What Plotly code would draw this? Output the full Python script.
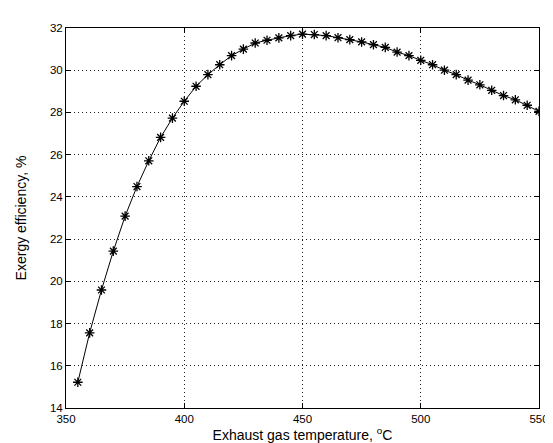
import plotly.graph_objects as go

temperature = [355, 360, 365, 370, 375, 380, 385, 390, 395, 400, 405, 410, 415, 420, 425,
               430, 435, 440, 445, 450, 455, 460, 465, 470, 475, 480, 485, 490, 495, 500,
               505, 510, 515, 520, 525, 530, 535, 540, 545, 550]
efficiency = [15.22, 17.56, 19.59, 21.43, 23.09, 24.49, 25.71, 26.82, 27.73, 28.53, 29.24, 29.79,
              30.26, 30.69, 31.0, 31.29, 31.42, 31.53, 31.64, 31.71, 31.69, 31.64, 31.54, 31.45,
              31.34, 31.21, 31.08, 30.86, 30.69, 30.47, 30.26, 30.0, 29.79, 29.53, 29.31,
              29.05, 28.8, 28.6, 28.34, 28.05]
x_ticks = [350, 400, 450, 500, 550]
y_ticks = [14, 16, 18, 20, 22, 24, 26, 28, 30, 32]

fig = go.Figure()
fig.add_trace(go.Scatter(
    x=temperature, y=efficiency, mode="lines+markers",
    line=dict(color="black", width=1),
    marker=dict(symbol="asterisk", size=8, color="black",
                line=dict(color="black", width=1.3)),
    showlegend=False,
))

axis_common = dict(
    showline=True, mirror="ticks", linecolor="black", linewidth=1,
    ticks="inside", ticklen=5, tickcolor="black",
    showgrid=True, gridcolor="#222222", griddash="1px,3px", gridwidth=1,
    zeroline=False, tickfont=dict(family="Liberation Sans, Arial", size=11.5, color="black"),
)

fig.update_layout(
    width=553, height=443,
    margin=dict(l=56, r=13, t=20, b=43),
    paper_bgcolor="white", plot_bgcolor="white",
    font=dict(family="Liberation Sans, Arial", size=12, color="black"),
    xaxis=dict(range=[350, 550], tickvals=x_ticks,
               title=dict(text="Exhaust gas temperature, <sup>o</sup>C", standoff=2),
               **axis_common),
    yaxis=dict(range=[14, 32], tickvals=y_ticks,
               title=dict(text="Exergy efficiency, %", standoff=20),
               **axis_common),
)

fig.write_html("out.html")
